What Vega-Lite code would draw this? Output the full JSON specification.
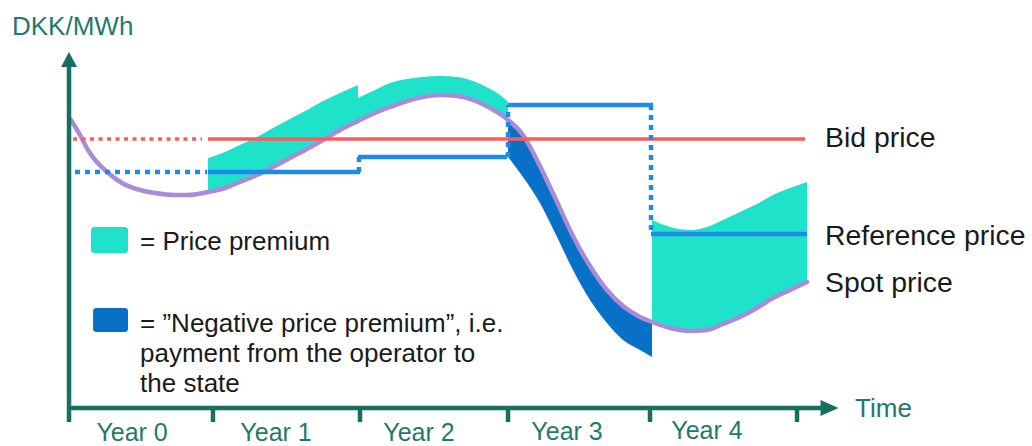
{
  "$schema": "https://vega.github.io/schema/vega-lite/v6.json",
  "width": 1032,
  "height": 446,
  "autosize": {"type": "none"},
  "padding": 0,
  "background": "white",
  "config": {"view": {"stroke": null}},
  "datasets": {
    "spot": [
      {"t": 0.007, "p": 144}, {"t": 0.069, "p": 136.5}, {"t": 0.124, "p": 129}, {"t": 0.179, "p": 123.5},
      {"t": 0.241, "p": 119}, {"t": 0.359, "p": 112.5}, {"t": 0.483, "p": 109}, {"t": 0.586, "p": 107.5},
      {"t": 0.724, "p": 106.5}, {"t": 0.814, "p": 106.5}, {"t": 0.952, "p": 108}, {"t": 1.069, "p": 110},
      {"t": 1.172, "p": 113}, {"t": 1.29, "p": 116.5}, {"t": 1.4, "p": 120.5}, {"t": 1.517, "p": 125},
      {"t": 1.634, "p": 129.5}, {"t": 1.745, "p": 134}, {"t": 1.862, "p": 139}, {"t": 1.986, "p": 143.5},
      {"t": 2.103, "p": 147.5}, {"t": 2.207, "p": 150.5}, {"t": 2.324, "p": 153.5}, {"t": 2.434, "p": 155.5},
      {"t": 2.552, "p": 156.5}, {"t": 2.669, "p": 156}, {"t": 2.779, "p": 154}, {"t": 2.897, "p": 150},
      {"t": 2.966, "p": 147}, {"t": 3.021, "p": 144}, {"t": 3.124, "p": 136.5}, {"t": 3.241, "p": 121},
      {"t": 3.359, "p": 103}, {"t": 3.469, "p": 86}, {"t": 3.586, "p": 71}, {"t": 3.703, "p": 59},
      {"t": 3.814, "p": 51}, {"t": 3.931, "p": 45.5}, {"t": 4.014, "p": 43}, {"t": 4.138, "p": 40},
      {"t": 4.276, "p": 38.5}, {"t": 4.393, "p": 39}, {"t": 4.503, "p": 42}, {"t": 4.621, "p": 45.5},
      {"t": 4.738, "p": 50}, {"t": 4.848, "p": 55}, {"t": 4.966, "p": 59}, {"t": 5.083, "p": 63}
    ],
    "bands": [
      {"kind": "premium", "seg": "y1", "t": 0.952, "p": 108, "p2": 125},
      {"kind": "premium", "seg": "y1", "t": 1.069, "p": 110, "p2": 128},
      {"kind": "premium", "seg": "y1", "t": 1.172, "p": 113, "p2": 131.5},
      {"kind": "premium", "seg": "y1", "t": 1.29, "p": 116.5, "p2": 135.5},
      {"kind": "premium", "seg": "y1", "t": 1.4, "p": 120.5, "p2": 140},
      {"kind": "premium", "seg": "y1", "t": 1.517, "p": 125, "p2": 144.5},
      {"kind": "premium", "seg": "y1", "t": 1.634, "p": 129.5, "p2": 149},
      {"kind": "premium", "seg": "y1", "t": 1.745, "p": 134, "p2": 153.5},
      {"kind": "premium", "seg": "y1", "t": 1.862, "p": 139, "p2": 157.5},
      {"kind": "premium", "seg": "y1", "t": 1.986, "p": 143.5, "p2": 161.5},
      {"kind": "premium", "seg": "y2", "t": 1.986, "p": 143.5, "p2": 155},
      {"kind": "premium", "seg": "y2", "t": 2.103, "p": 147.5, "p2": 159},
      {"kind": "premium", "seg": "y2", "t": 2.207, "p": 150.5, "p2": 162.5},
      {"kind": "premium", "seg": "y2", "t": 2.324, "p": 153.5, "p2": 164.5},
      {"kind": "premium", "seg": "y2", "t": 2.434, "p": 155.5, "p2": 165.5},
      {"kind": "premium", "seg": "y2", "t": 2.552, "p": 156.5, "p2": 166},
      {"kind": "premium", "seg": "y2", "t": 2.669, "p": 156, "p2": 165.5},
      {"kind": "premium", "seg": "y2", "t": 2.779, "p": 154, "p2": 163.5},
      {"kind": "premium", "seg": "y2", "t": 2.897, "p": 150, "p2": 159.5},
      {"kind": "premium", "seg": "y2", "t": 2.966, "p": 147, "p2": 156.5},
      {"kind": "premium", "seg": "y2", "t": 3.021, "p": 144, "p2": 153},
      {"kind": "negative", "seg": "y3", "t": 3.021, "p": 125.5, "p2": 144},
      {"kind": "negative", "seg": "y3", "t": 3.124, "p": 115.5, "p2": 136.5},
      {"kind": "negative", "seg": "y3", "t": 3.241, "p": 102.5, "p2": 121},
      {"kind": "negative", "seg": "y3", "t": 3.359, "p": 85.5, "p2": 103},
      {"kind": "negative", "seg": "y3", "t": 3.469, "p": 69, "p2": 86},
      {"kind": "negative", "seg": "y3", "t": 3.586, "p": 54, "p2": 71},
      {"kind": "negative", "seg": "y3", "t": 3.703, "p": 42.5, "p2": 59},
      {"kind": "negative", "seg": "y3", "t": 3.814, "p": 34, "p2": 51},
      {"kind": "negative", "seg": "y3", "t": 3.931, "p": 29, "p2": 45.5},
      {"kind": "negative", "seg": "y3", "t": 4.014, "p": 25.5, "p2": 43},
      {"kind": "premium", "seg": "y4", "t": 4.014, "p": 43, "p2": 94},
      {"kind": "premium", "seg": "y4", "t": 4.138, "p": 40, "p2": 90.5},
      {"kind": "premium", "seg": "y4", "t": 4.276, "p": 38.5, "p2": 89},
      {"kind": "premium", "seg": "y4", "t": 4.393, "p": 39, "p2": 90.5},
      {"kind": "premium", "seg": "y4", "t": 4.503, "p": 42, "p2": 94},
      {"kind": "premium", "seg": "y4", "t": 4.621, "p": 45.5, "p2": 98},
      {"kind": "premium", "seg": "y4", "t": 4.738, "p": 50, "p2": 102},
      {"kind": "premium", "seg": "y4", "t": 4.848, "p": 55, "p2": 106.5},
      {"kind": "premium", "seg": "y4", "t": 4.966, "p": 59, "p2": 110},
      {"kind": "premium", "seg": "y4", "t": 5.083, "p": 63, "p2": 113}
    ],
    "swatches": [
      {"kind": "premium", "t": 0.145, "t2": 0.4, "p": 90.5, "p2": 77.5},
      {"kind": "negative", "t": 0.159, "t2": 0.4, "p": 50, "p2": 38}
    ],
    "bid": [
      {"id": "b0", "style": "dotted", "t": 0.021, "p": 134.5},
      {"id": "b0", "style": "dotted", "t": 0.91, "p": 134.5},
      {"id": "b1", "style": "solid", "t": 0.952, "p": 134.5},
      {"id": "b1", "style": "solid", "t": 5.069, "p": 134.5}
    ],
    "ref": [
      {"id": "d0", "style": "dotted", "t": 0.0345, "p": 118},
      {"id": "d0", "style": "dotted", "t": 0.945, "p": 118},
      {"id": "d1", "style": "dotted", "t": 1.993, "p": 118},
      {"id": "d1", "style": "dotted", "t": 1.993, "p": 125.5},
      {"id": "d2", "style": "dotted", "t": 3.021, "p": 125.5},
      {"id": "d2", "style": "dotted", "t": 3.021, "p": 151.5},
      {"id": "d3", "style": "dotted", "t": 4.007, "p": 151.5},
      {"id": "d3", "style": "dotted", "t": 4.007, "p": 87},
      {"id": "s1", "style": "solid", "t": 0.952, "p": 118},
      {"id": "s1", "style": "solid", "t": 2.0, "p": 118},
      {"id": "s2", "style": "solid", "t": 1.986, "p": 125.5},
      {"id": "s2", "style": "solid", "t": 3.014, "p": 125.5},
      {"id": "s3", "style": "solid", "t": 3.021, "p": 151.5},
      {"id": "s3", "style": "solid", "t": 4.021, "p": 151.5},
      {"id": "s4", "style": "solid", "t": 4.007, "p": 87},
      {"id": "s4", "style": "solid", "t": 5.083, "p": 87}
    ],
    "axes": [
      {"id": "v", "t": -0.0069, "p": -7}, {"id": "v", "t": -0.0069, "p": 172},
      {"id": "h", "t": -0.0138, "p": 0}, {"id": "h", "t": 5.2, "p": 0},
      {"id": "k1", "t": 0.986, "p": 0}, {"id": "k1", "t": 0.986, "p": -7},
      {"id": "k2", "t": 2.0, "p": 0}, {"id": "k2", "t": 2.0, "p": -7},
      {"id": "k3", "t": 3.021, "p": 0}, {"id": "k3", "t": 3.021, "p": -7},
      {"id": "k4", "t": 4.0, "p": 0}, {"id": "k4", "t": 4.0, "p": -7},
      {"id": "k5", "t": 5.014, "p": 0}, {"id": "k5", "t": 5.014, "p": -7}
    ],
    "arrows": [
      {"dir": "up", "t": -0.0069, "p": 174.25},
      {"dir": "right", "t": 5.238, "p": 0}
    ],
    "legendText": [
      {"t": 0.483, "p": 79, "text": "= Price premium"},
      {"t": 0.483, "p": 38, "text": "= ”Negative price premium”, i.e."},
      {"t": 0.483, "p": 23, "text": "payment from the operator to"},
      {"t": 0.483, "p": 8, "text": "the state"}
    ],
    "rightText": [
      {"t": 5.207, "p": 130.5, "text": "Bid price"},
      {"t": 5.207, "p": 81.5, "text": "Reference price"},
      {"t": 5.207, "p": 58, "text": "Spot price"}
    ],
    "axisText": [
      {"t": -0.4, "p": 186.5, "text": "DKK/MWh"},
      {"t": 5.414, "p": -4.5, "text": "Time"}
    ],
    "yearText": [
      {"t": 0.428, "p": -16.5, "text": "Year 0"},
      {"t": 1.421, "p": -16.5, "text": "Year 1"},
      {"t": 2.407, "p": -16.5, "text": "Year 2"},
      {"t": 3.428, "p": -16, "text": "Year 3"},
      {"t": 4.393, "p": -15.5, "text": "Year 4"}
    ]
  },
  "encoding": {
    "x": {"field": "t", "type": "quantitative", "scale": {"domain": [-0.4828, 6.6345], "nice": false, "zero": false}, "axis": null},
    "y": {"field": "p", "type": "quantitative", "scale": {"domain": [-19, 204], "nice": false, "zero": false}, "axis": null}
  },
  "layer": [
    {
      "data": {"name": "bands"},
      "mark": {"type": "area", "interpolate": "monotone", "opacity": 1},
      "encoding": {
        "y2": {"field": "p2"},
        "detail": {"field": "seg"},
        "color": {"field": "kind", "type": "nominal", "scale": {"domain": ["premium", "negative"], "range": ["#1FE2CB", "#0870C6"]}, "legend": null}
      }
    },
    {
      "data": {"name": "spot"},
      "mark": {"type": "line", "interpolate": "monotone", "color": "#A98BD9", "strokeWidth": 4.5, "strokeCap": "round"},
      "encoding": {}
    },
    {
      "data": {"name": "bid"},
      "transform": [{"filter": "datum.style === 'dotted'"}],
      "mark": {"type": "line", "color": "#FF5A5A", "strokeWidth": 3.5, "strokeDash": [4, 4.5], "strokeCap": "butt"},
      "encoding": {"detail": {"field": "id"}}
    },
    {
      "data": {"name": "bid"},
      "transform": [{"filter": "datum.style === 'solid'"}],
      "mark": {"type": "line", "color": "#FF5A5A", "strokeWidth": 3.5, "strokeCap": "butt"},
      "encoding": {"detail": {"field": "id"}}
    },
    {
      "data": {"name": "ref"},
      "transform": [{"filter": "datum.style === 'dotted'"}],
      "mark": {"type": "line", "color": "#1E8BE6", "strokeWidth": 4.5, "strokeDash": [5, 5], "strokeCap": "butt"},
      "encoding": {"detail": {"field": "id"}}
    },
    {
      "data": {"name": "ref"},
      "transform": [{"filter": "datum.style === 'solid'"}],
      "mark": {"type": "line", "color": "#1E8BE6", "strokeWidth": 4.5, "strokeCap": "butt"},
      "encoding": {"detail": {"field": "id"}}
    },
    {
      "data": {"name": "axes"},
      "mark": {"type": "line", "color": "#17705F", "strokeWidth": 4.5, "strokeCap": "butt"},
      "encoding": {"detail": {"field": "id"}}
    },
    {
      "data": {"name": "arrows"},
      "mark": {"type": "point", "filled": true, "opacity": 1, "color": "#17705F", "size": 289, "strokeWidth": 0},
      "encoding": {
        "shape": {"field": "dir", "type": "nominal", "scale": {"domain": ["up", "right"], "range": ["M0,-0.882L-0.941,0.882L0.941,0.882Z", "M1.059,0L-1.059,-0.941L-1.059,0.941Z"]}, "legend": null}
      }
    },
    {
      "data": {"name": "swatches"},
      "mark": {"type": "rect", "cornerRadius": 3, "opacity": 1},
      "encoding": {
        "x2": {"field": "t2"},
        "y2": {"field": "p2"},
        "color": {"field": "kind", "type": "nominal", "scale": {"domain": ["premium", "negative"], "range": ["#1FE2CB", "#0870C6"]}, "legend": null}
      }
    },
    {
      "data": {"name": "legendText"},
      "mark": {"type": "text", "font": "Liberation Sans", "fontSize": 26, "color": "#1a1a1a", "align": "left", "baseline": "alphabetic"},
      "encoding": {"text": {"field": "text"}}
    },
    {
      "data": {"name": "rightText"},
      "mark": {"type": "text", "font": "Liberation Sans", "fontSize": 28.4, "color": "#1a1a1a", "align": "left", "baseline": "alphabetic"},
      "encoding": {"text": {"field": "text"}}
    },
    {
      "data": {"name": "axisText"},
      "mark": {"type": "text", "font": "Liberation Sans", "fontSize": 26, "color": "#1F7A6C", "align": "left", "baseline": "alphabetic"},
      "encoding": {"text": {"field": "text"}}
    },
    {
      "data": {"name": "yearText"},
      "mark": {"type": "text", "font": "Liberation Sans", "fontSize": 25, "color": "#1F7A6C", "align": "center", "baseline": "alphabetic"},
      "encoding": {"text": {"field": "text"}}
    }
  ]
}
